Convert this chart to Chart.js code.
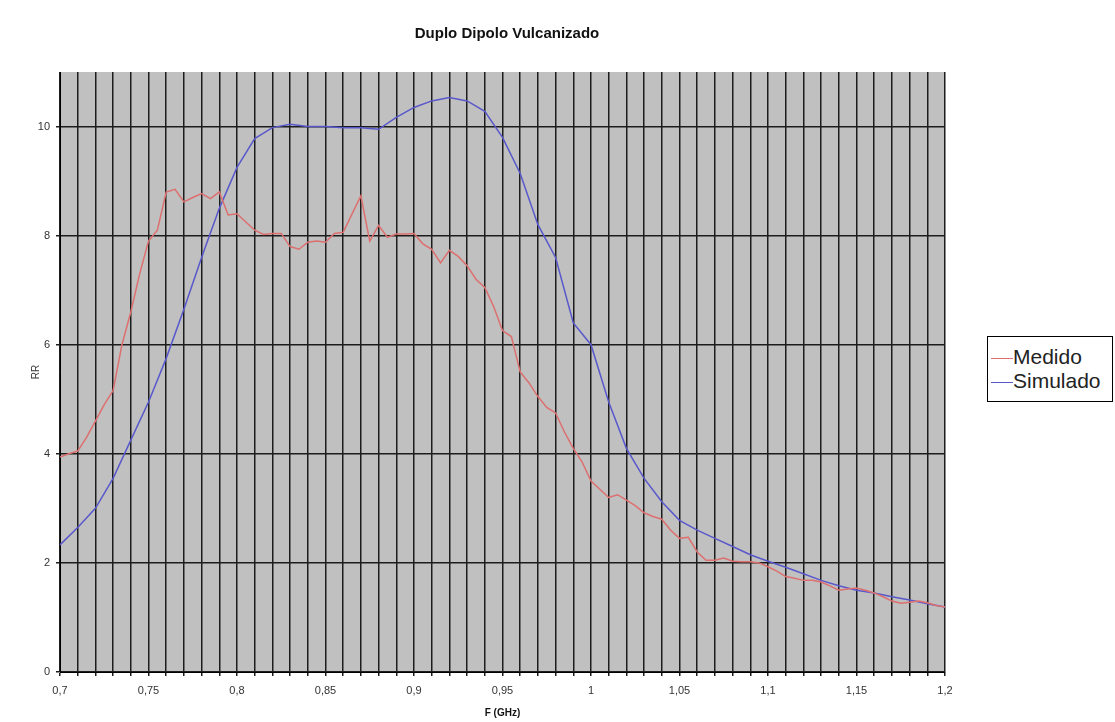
<!DOCTYPE html>
<html>
<head>
<meta charset="utf-8">
<title>Duplo Dipolo Vulcanizado</title>
<script src="https://cdn.jsdelivr.net/npm/chart.js@4.4.1/dist/chart.umd.min.js"></script>
<style>
  html, body { margin: 0; padding: 0; background: #fff; }
  #wrap { position: relative; width: 1115px; height: 722px; overflow: hidden; }
  #legend {
    position: absolute; left: 987px; top: 336px; width: 126px; height: 66px;
    border: 1px solid #000; background: #fff; box-sizing: border-box; padding-top: 8px;
    font-family: "Liberation Sans", Arial, sans-serif; font-size: 21px; line-height: 24px; color: #222;
  }
  #legend div { white-space: nowrap; }
  #legend span.ln { display: inline-block; width: 22px; height: 0; border-top: 1.5px solid; vertical-align: middle; margin: 0 0 0 3px; }
</style>
</head>
<body>
<div id="wrap">
  <canvas id="chart" width="1115" height="722"></canvas>
  <div id="legend"></div>
</div>
<script>
// frequency grid (GHz)
var freqMedido = [];
for (var i = 0; i <= 100; i++) freqMedido.push(Math.round((0.7 + i * 0.005) * 1000) / 1000);
var freqSimulado = [];
for (var j = 0; j <= 50; j++) freqSimulado.push(Math.round((0.7 + j * 0.01) * 100) / 100);

// measured RR, one value every 5 MHz
var medido = [
  3.94, 4.00, 4.05, 4.30, 4.60, 4.90, 5.16, 6.00, 6.60, 7.30,
  7.90, 8.10, 8.80, 8.85, 8.62, 8.70, 8.77, 8.68, 8.80, 8.38,
  8.40, 8.25, 8.10, 8.02, 8.04, 8.04, 7.80, 7.75, 7.88, 7.90,
  7.88, 8.04, 8.06, 8.40, 8.73, 7.90, 8.19, 7.97, 8.03, 8.03,
  8.04, 7.85, 7.75, 7.50, 7.73, 7.62, 7.45, 7.20, 7.05, 6.70,
  6.26, 6.15, 5.50, 5.30, 5.05, 4.85, 4.75, 4.40, 4.10, 3.85,
  3.50, 3.35, 3.20, 3.25, 3.15, 3.05, 2.92, 2.85, 2.80, 2.60,
  2.45, 2.47, 2.20, 2.05, 2.05, 2.09, 2.03, 2.02, 2.02, 2.00,
  1.93, 1.85, 1.75, 1.72, 1.68, 1.68, 1.65, 1.58, 1.50, 1.52,
  1.54, 1.50, 1.45, 1.38, 1.30, 1.26, 1.28, 1.30, 1.27, 1.22,
  1.19
];

// simulated RR, one value every 10 MHz
var simulado = [
  2.33, 2.65, 3.00, 3.55, 4.25, 4.95, 5.75, 6.65, 7.60, 8.50,
  9.25, 9.78, 9.98, 10.04, 10.00, 10.00, 9.98, 9.98, 9.95, 10.17,
  10.35, 10.47, 10.53, 10.47, 10.28, 9.80, 9.14, 8.20, 7.60, 6.40,
  6.00, 4.95, 4.10, 3.55, 3.12, 2.78, 2.60, 2.45, 2.30, 2.15,
  2.03, 1.92, 1.80, 1.68, 1.58, 1.50, 1.45, 1.38, 1.32, 1.25,
  1.19
];

var yTicks = [0, 2, 4, 6, 8, 10];
var chartTitle = 'Duplo Dipolo Vulcanizado';

function pts(xs, ys) {
  return xs.map(function (x, k) { return { x: x, y: ys[k] }; });
}

var font = 'Liberation Sans, Arial, sans-serif';

// grey plot background + title centred a bit right of the plot
var plotBg = {
  id: 'plotBg',
  beforeDraw: function (chart) {
    var a = chart.chartArea, c = chart.ctx;
    c.save();
    c.fillStyle = '#c0c0c0';
    c.fillRect(a.left, a.top, a.right - a.left, a.bottom - a.top);
    c.fillStyle = '#111';
    c.font = 'bold 15px ' + font;
    c.textAlign = 'center';
    c.textBaseline = 'middle';
    c.fillText(chartTitle, 507, 34);
    c.restore();
  }
};

var ctx = document.getElementById('chart').getContext('2d');
var chart = new Chart(ctx, {
  type: 'line',
  data: {
    datasets: [
      { label: 'Medido', data: pts(freqMedido, medido), borderColor: '#dd6f6f', borderWidth: 1.5, pointRadius: 0, tension: 0 },
      { label: 'Simulado', data: pts(freqSimulado, simulado), borderColor: '#5858cc', borderWidth: 1.5, pointRadius: 0, tension: 0 }
    ]
  },
  plugins: [plotBg],
  options: {
    responsive: false,
    animation: false,
    layout: { padding: { left: 30, right: 170, top: 72, bottom: 0 } },
    plugins: {
      legend: { display: false },
      tooltip: { enabled: false },
      title: { display: false }
    },
    scales: {
      x: {
        type: 'linear',
        min: 0.7,
        max: 1.2,
        afterFit: function (s) { s.height = 50; },
        ticks: {
          stepSize: 0.01,
          autoSkip: false,
          maxRotation: 0,
          includeBounds: false,
          color: '#333',
          font: { family: font, size: 11 },
          padding: 8,
          callback: function (v) {
            var r = Math.round(v * 100);
            if (r % 5 !== 0) return '';
            return String(r / 100).replace('.', ',');
          }
        },
        grid: { color: '#1c1c1c', lineWidth: 1.5, tickLength: 4, drawTicks: true },
        border: { color: '#000', width: 1 },
        title: { display: true, text: 'F (GHz)', color: '#111', font: { family: font, size: 10, weight: 'bold' }, padding: { top: 0, bottom: 3 } }
      },
      y: {
        min: 0,
        max: 11,
        afterFit: function (s) { s.width = 30; },
        afterBuildTicks: function (s) { s.ticks = yTicks.map(function (v) { return { value: v }; }); },
        ticks: {
          color: '#333',
          font: { family: font, size: 11 },
          padding: 6,
          callback: function (v) { return String(v); }
        },
        grid: { color: '#1c1c1c', lineWidth: 1.5, tickLength: 4 },
        border: { color: '#000', width: 1 },
        title: { display: true, text: 'RR', color: '#333', font: { family: font, size: 10 }, padding: { top: 0, bottom: 0 } }
      }
    }
  }
});

// legend box on the right
var lg = document.getElementById('legend');
chart.data.datasets.forEach(function (ds) {
  var row = document.createElement('div');
  var ln = document.createElement('span');
  ln.className = 'ln';
  ln.style.borderTopColor = ds.borderColor;
  row.appendChild(ln);
  row.appendChild(document.createTextNode(ds.label));
  lg.appendChild(row);
});
</script>
</body>
</html>
